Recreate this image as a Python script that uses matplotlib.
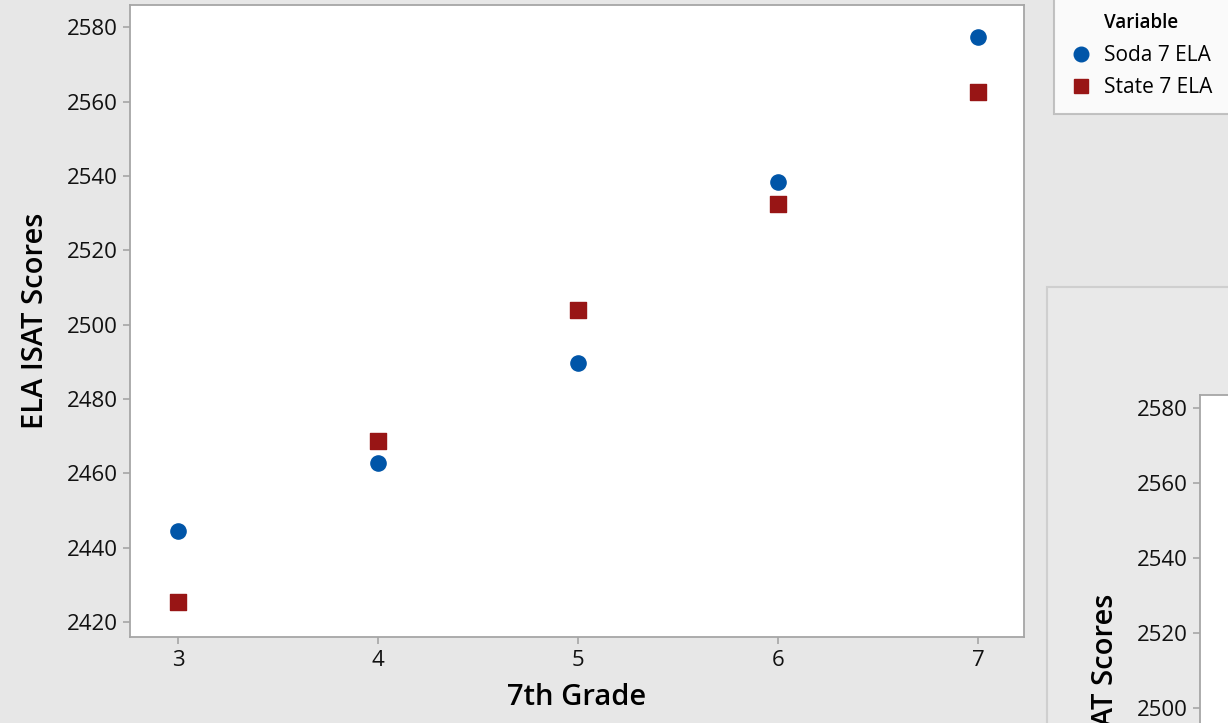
import matplotlib.pyplot as plt
from matplotlib.lines import Line2D
from matplotlib.patches import Rectangle

grade = [3, 4, 5, 6, 7]
soda_ela = [2444.5, 2462.7, 2489.6, 2538.3, 2577.5]
state_ela = [2425.4, 2468.7, 2503.9, 2532.4, 2562.5]
y_ticks = [2420, 2440, 2460, 2480, 2500, 2520, 2540, 2560, 2580]
y_ticks_2 = [2500, 2520, 2540, 2560, 2580]

W, H = 1228, 723
bg = '#e7e7e7'
frame = '#a6a6a6'
blue = '#0055a8'
red = '#981515'

plt.rcParams['font.family'] = ['Open Sans', 'DejaVu Sans']

fig = plt.figure(figsize=(W / 100, H / 100), dpi=100, facecolor=bg)


def px_axes(x0, y0, x1, y1):
    # pixel box (top-left origin) -> figure fraction
    return [x0 / W, 1 - y1 / H, (x1 - x0) / W, (y1 - y0) / H]


def style_axes(ax):
    ax.set_facecolor('white')
    for s in ax.spines.values():
        s.set_color(frame)
        s.set_linewidth(1.3)
    ax.tick_params(direction='out', length=5, width=1.2, color=frame,
                   labelsize=16, labelcolor='#111111', pad=4)


# main scatter
ax = fig.add_axes(px_axes(130, 5, 1024, 637))
style_axes(ax)
ax.scatter(grade, soda_ela, marker='o', s=120, color=blue, zorder=3,
           label='Soda 7 ELA')
ax.scatter(grade, state_ela, marker='s', s=130, color=red, zorder=3,
           label='State 7 ELA')
ax.set_xlim(2.76, 7.23)
ax.set_ylim(2416, 2586)
ax.set_xticks(grade)
ax.set_yticks(y_ticks)
ax.set_xlabel('7th Grade', fontsize=21, fontweight='semibold', labelpad=9)
ax.set_ylabel('ELA ISAT Scores', fontsize=21, fontweight='semibold', labelpad=12)

# legend box, cut off at the right edge like the screenshot
title_row = Line2D([], [], linestyle='none')
soda_h = Line2D([], [], linestyle='none', marker='o', markersize=10.5, color=blue)
state_h = Line2D([], [], linestyle='none', marker='s', markersize=10.5, color=red)
leg = fig.legend(handles=[title_row, soda_h, state_h],
                 labels=['Variable', 'Soda 7 ELA', 'State 7 ELA'],
                 loc='upper left',
                 bbox_to_anchor=(1054 / W, 1 - 5 / H, 190 / W, 0.01),
                 mode='expand', fontsize=15,
                 frameon=True, fancybox=False, handletextpad=0.55,
                 borderpad=0.75, labelspacing=0.55, handlelength=1.1,
                 borderaxespad=0)
leg.get_frame().set_edgecolor('#b5b5b5')
leg.get_frame().set_linewidth(1.5)
leg.get_texts()[0].set_fontweight('semibold')
leg.get_texts()[0].set_fontsize(13.5)

# second graph window peeking in at the bottom right
fig.patches.append(Rectangle((1047 / W, -0.1), 0.2, 1 - 287 / H + 0.1,
                             transform=fig.transFigure, facecolor='#e9e9e9',
                             edgecolor='#cfcfcf', linewidth=1.5, zorder=-1))
ax2 = fig.add_axes(px_axes(1200, 395, 1500, 1008))
style_axes(ax2)
ax2.set_ylim(2420, 2583.5)
ax2.set_yticks(y_ticks_2)
ax2.set_xticks([])
ax2.set_ylabel('ELA ISAT Scores', fontsize=21, fontweight='semibold', labelpad=12)

fig.savefig('out.png', dpi=100, facecolor=bg)
